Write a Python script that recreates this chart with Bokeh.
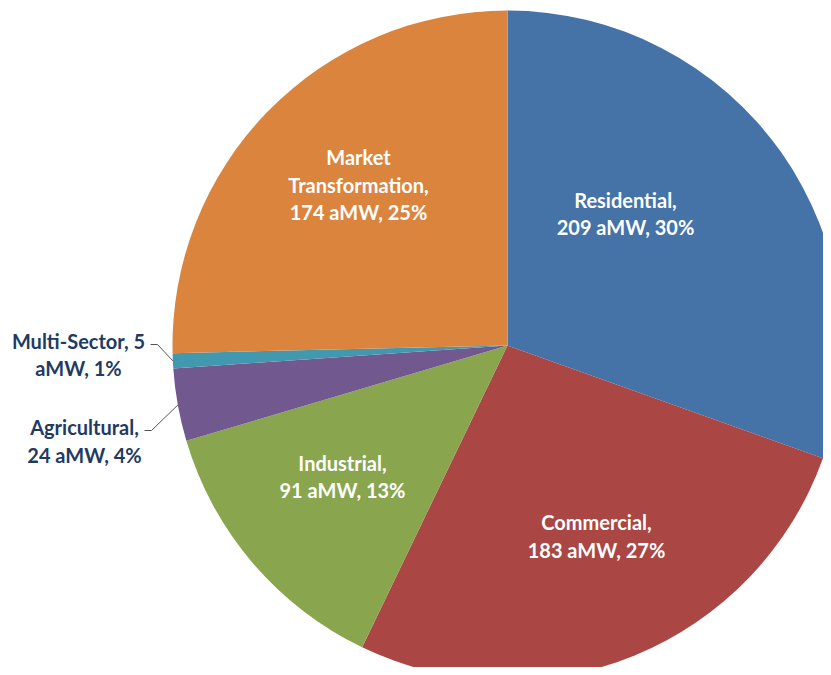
import math
from bokeh.plotting import figure
from bokeh.models import Range1d, ColumnDataSource
from bokeh.core.properties import value
from bokeh.embed import file_html
from bokeh.resources import INLINE

# ---- data ----
categories = ["Residential", "Commercial", "Industrial", "Agricultural",
              "Multi-Sector", "Market Transformation"]
values_amw = [209, 183, 91, 24, 5, 174]
percent_labels = ["30%", "27%", "13%", "4%", "1%", "25%"]

# ---- styles / layout ----
colors = ["#4572A7", "#AA4643", "#89A54E", "#71588F", "#4198AF", "#DB843D"]
label_colors = ["white", "white", "white", "#1F3B63", "#1F3B63", "white"]
# label lines (layout choice of where the text breaks)
label_lines = [
    ["Residential,", "209 aMW, 30%"],
    ["Commercial,", "183 aMW, 27%"],
    ["Industrial,", "91 aMW, 13%"],
    ["Agricultural,", "24 aMW, 4%"],
    ["Multi-Sector, 5", "aMW, 1%"],
    ["Market", "Transformation,", "174 aMW, 25%"],
]
# block centre offsets from the pie centre (px, y up)
label_offsets = [(118, 132), (89, -190.5), (-165, -131), (-423, -95.5),
                 (-429, -9), (-149, 161)]
leader_starts = {3: (-363, -85), 4: (-357, 1)}  # offsets for outside labels
line_gap = 27.5

W, H = 823, 667
cx, cy, R = 507, H - 345, 335

p = figure(width=W, height=H, x_range=Range1d(0, W), y_range=Range1d(0, H),
           output_backend="svg", toolbar_location=None, min_border=0,
           x_axis_type=None, y_axis_type=None)
p.grid.visible = False
p.outline_line_color = None
p.background_fill_color = "white"

total = sum(values_amw)
starts, ends, mids = [], [], []
cum = 0.0
for v in values_amw:
    a0 = math.pi / 2 - 2 * math.pi * cum / total
    cum += v
    a1 = math.pi / 2 - 2 * math.pi * cum / total
    starts.append(a0)
    ends.append(a1)
    mids.append((a0 + a1) / 2)

src = ColumnDataSource(dict(start=starts, end=ends, color=colors, cat=categories))
p.wedge(x=cx, y=cy, radius=R, start_angle="start", end_angle="end",
        direction="clock", fill_color="color", line_color=None, source=src)

# leader lines for outside labels
for i, (sx, sy) in leader_starts.items():
    ex = cx + R * math.cos(mids[i])
    ey = cy + R * math.sin(mids[i])
    xs = [cx + sx, cx + sx + 7, ex]
    ys = [cy + sy, cy + sy, ey]
    p.line(xs, ys, line_color="#555555", line_width=1)

tx, ty, tt, tc = [], [], [], []
for i, lines in enumerate(label_lines):
    ox, oy = label_offsets[i]
    n = len(lines)
    for k, ln in enumerate(lines):
        tx.append(cx + ox)
        ty.append(cy + oy + ((n - 1) / 2 - k) * line_gap)
        tt.append(ln)
        tc.append(label_colors[i])

tsrc = ColumnDataSource(dict(x=tx, y=ty, text=tt, color=tc))
p.text(x="x", y="y", text="text", text_color="color", source=tsrc,
       text_align="center", text_baseline="middle",
       text_font=value("Lato"), text_font_style="bold", text_font_size="20px")

open("out.html", "w").write(file_html(p, INLINE))
